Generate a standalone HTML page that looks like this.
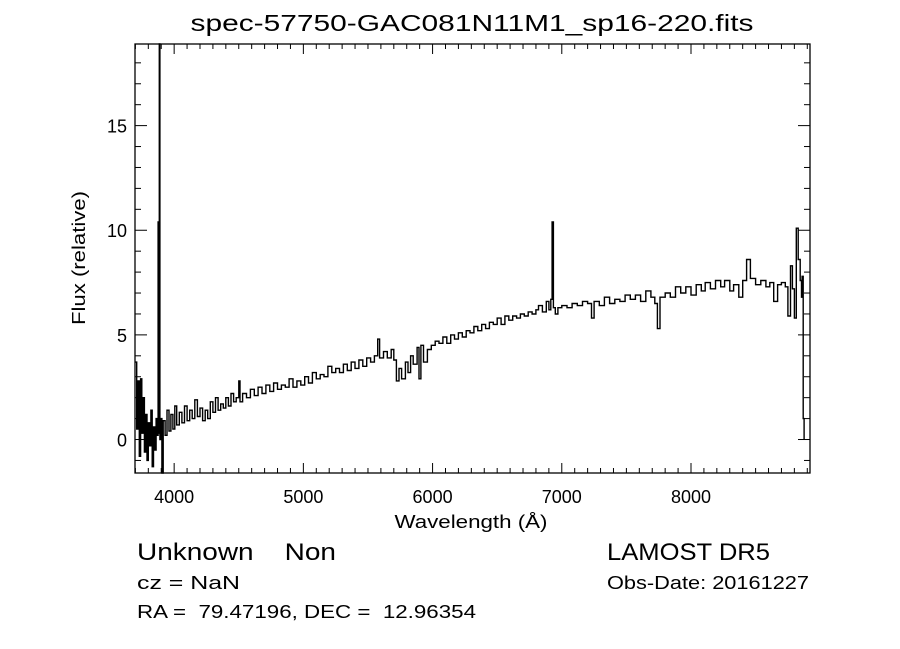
<!DOCTYPE html>
<html><head><meta charset="utf-8"><style>
html,body{margin:0;padding:0;background:#fff;}
svg{display:block;font-family:"Liberation Sans",sans-serif;}
</style></head><body>
<svg id="chart" width="900" height="649" viewBox="0 0 900 649">
<rect width="900" height="649" fill="#fff"/>
<text x="472" y="31" text-anchor="middle" font-size="23" textLength="563" lengthAdjust="spacingAndGlyphs">spec-57750-GAC081N11M1_sp16-220.fits</text>
<g id="axes"></g>
<path id="spec" fill="none" stroke="#000" stroke-width="1.4"/>
<text x="471" y="528" text-anchor="middle" font-size="18" textLength="153" lengthAdjust="spacingAndGlyphs">Wavelength (Å)</text>
<text transform="translate(85,258) rotate(-90)" text-anchor="middle" font-size="18" textLength="134" lengthAdjust="spacingAndGlyphs">Flux (relative)</text>
<text x="137" y="560" font-size="24" textLength="199" lengthAdjust="spacingAndGlyphs" xml:space="preserve">Unknown    Non</text>
<text x="607" y="560" font-size="24" textLength="163" lengthAdjust="spacingAndGlyphs">LAMOST DR5</text>
<text x="137" y="589" font-size="18" textLength="103" lengthAdjust="spacingAndGlyphs">cz = NaN</text>
<text x="607" y="589" font-size="18" textLength="202" lengthAdjust="spacingAndGlyphs">Obs-Date: 20161227</text>
<text x="137" y="618" font-size="18" textLength="339" lengthAdjust="spacingAndGlyphs" xml:space="preserve">RA =  79.47196, DEC =  12.96354</text>
</svg>
<script>
const wl=[3700,3710,3720,3730,3740,3750,3760,3770,3780,3790,3800,3810,3820,3830,3840,3850,3860,3870,3876,3880,3885,3890,3900,3905,3915,3930,3945,3960,3975,3990,4005,4020,4040,4060,4080,4100,4120,4140,4160,4180,4200,4220,4240,4260,4280,4300,4320,4340,4360,4380,4400,4420,4440,4460,4480,4500,4510,4530,4560,4590,4620,4650,4680,4710,4740,4770,4800,4830,4860,4890,4920,4950,4980,5010,5040,5070,5100,5130,5160,5190,5220,5250,5280,5310,5340,5370,5400,5430,5460,5490,5520,5550,5575,5590,5620,5650,5680,5700,5720,5740,5760,5790,5810,5830,5850,5880,5895,5910,5930,5960,5990,6020,6050,6080,6110,6140,6170,6200,6230,6260,6290,6320,6350,6380,6410,6440,6470,6500,6530,6560,6590,6620,6650,6680,6710,6740,6770,6800,6820,6850,6880,6900,6915,6925,6935,6950,6970,7000,7040,7080,7120,7160,7200,7230,7250,7290,7330,7370,7410,7450,7490,7530,7570,7610,7650,7690,7720,7740,7760,7800,7840,7880,7920,7960,8000,8040,8080,8110,8150,8190,8230,8260,8300,8330,8370,8400,8430,8460,8500,8540,8580,8610,8640,8670,8700,8730,8750,8770,8785,8800,8815,8830,8845,8855,8860,8868,8875];
const flux=[3.7,0.5,2.8,-0.8,2.9,0.3,2.0,-0.6,1.2,-1.0,0.8,-0.3,1.4,-1.3,0.6,-0.5,1.0,0.2,10.4,0.3,18.9,0.0,1.0,-1.6,0.9,0.2,1.4,0.4,1.2,0.5,1.6,0.7,1.3,0.8,1.6,0.9,1.4,1.0,1.9,1.1,1.5,0.9,1.4,1.0,1.8,1.3,2.0,1.4,1.7,1.5,2.0,1.6,2.2,1.8,2.0,2.8,1.8,2.2,2.0,2.4,2.1,2.5,2.2,2.6,2.3,2.7,2.4,2.6,2.5,2.9,2.5,2.8,2.6,3.0,2.7,3.2,2.9,3.1,3.0,3.5,3.2,3.4,3.2,3.6,3.3,3.7,3.4,3.8,3.5,3.9,3.7,4.0,4.8,3.9,4.2,3.9,4.3,3.8,2.8,3.4,2.9,3.7,3.2,4.0,3.6,4.4,2.9,4.5,3.7,4.3,4.5,4.7,4.6,4.9,4.6,5.0,4.8,5.1,4.9,5.2,5.1,5.4,5.2,5.5,5.3,5.6,5.5,5.8,5.5,5.9,5.7,5.9,5.8,6.0,5.9,6.1,6.0,6.2,6.4,6.1,6.6,6.2,6.7,10.4,6.3,6.0,6.3,6.4,6.3,6.5,6.4,6.6,6.5,5.8,6.6,6.4,6.8,6.5,6.7,6.6,6.9,6.7,6.9,6.6,7.1,6.8,6.5,5.3,6.8,7.0,6.8,7.3,7.0,7.3,6.9,7.4,7.1,7.5,7.2,7.6,7.3,7.6,7.1,7.4,6.8,7.6,8.6,7.7,7.4,7.6,7.3,7.5,6.6,7.4,7.5,7.3,5.9,8.3,7.2,5.8,10.1,8.6,7.6,6.8,7.8,1.0,0.0];
const xTicks=[4000,5000,6000,7000,8000];
const yTicks=[0,5,10,15];
const X0=135,X1=810,Y0=44,Y1=473;
const wMin=3697,wMax=8921,fMin=-1.6,fMax=18.9;
const xs=w=>X0+(w-wMin)/(wMax-wMin)*(X1-X0);
const ys=f=>Y1-(f-fMin)/(fMax-fMin)*(Y1-Y0);
const NS='http://www.w3.org/2000/svg';
const ax=document.getElementById('axes');
function mk(tag,attrs){const e=document.createElementNS(NS,tag);for(const k in attrs)e.setAttribute(k,attrs[k]);ax.appendChild(e);return e;}
const frame=mk('rect',{x:X0,y:Y0,width:X1-X0,height:Y1-Y0,fill:'none',stroke:'#000','stroke-width':1.3});


for(let w=3700;w<=wMax;w+=100){
  const major=w%1000===0,len=major?10:5,x=xs(w);
  const t1=mk('line',{x1:x,x2:x,y1:Y1,y2:Y1-len,stroke:'#000','stroke-width':1});
  
  
  const t2=mk('line',{x1:x,x2:x,y1:Y0,y2:Y0+len,stroke:'#000','stroke-width':1});
  
  
}
xTicks.forEach(w=>{const t=mk('text',{x:xs(w),y:503,'text-anchor':'middle','font-size':18});t.textContent=w;
  
  });
for(let f=-1;f<=18;f++){
  const major=f%5===0,len=major?12:6,y=ys(f);
  const t1=mk('line',{x1:X0,x2:X0+len,y1:y,y2:y,stroke:'#000','stroke-width':1});
  
  
  const t2=mk('line',{x1:X1,x2:X1-len,y1:y,y2:y,stroke:'#000','stroke-width':1});
  
  
}
yTicks.forEach(f=>{const t=mk('text',{x:127,y:ys(f)+7,'text-anchor':'end','font-size':18});t.textContent=f;
  
  });
let d='';
for(let i=0;i<wl.length;i++){
  const x=xs(wl[i]).toFixed(1),y=Math.max(Y0,Math.min(Y1,ys(flux[i]))).toFixed(1);
  if(i===0)d+='M'+x+','+y;else d+='H'+x+'V'+y;
}
document.getElementById('spec').setAttribute('d',d);
</script>
</body></html>
